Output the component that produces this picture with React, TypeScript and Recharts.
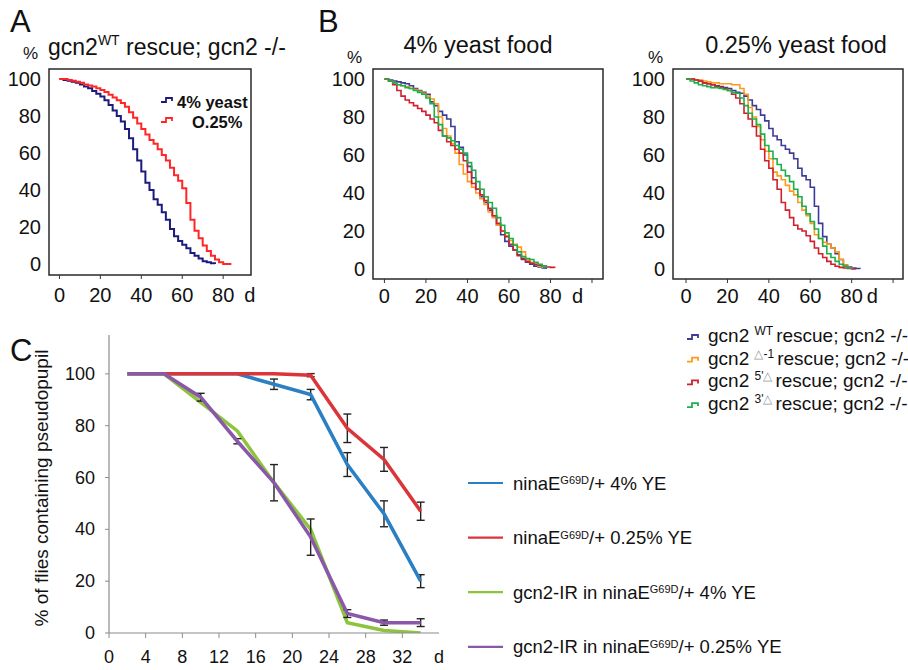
import React from "react";
import { LineChart, Line, XAxis, YAxis, ReferenceArea, ErrorBar } from "recharts";

const FONT = "'Liberation Sans', Arial, Helvetica, sans-serif";
const INK = "#111";

// survival curves, % alive read every 2 days (null = curve already ended)
const DAYS = [0, 2, 4, 6, 8, 10, 12, 14, 16, 18, 20, 22, 24, 26, 28, 30, 32, 34, 36, 38, 40, 42, 44, 46, 48, 50, 52, 54, 56, 58, 60, 62, 64, 66, 68, 70, 72, 74, 76, 78, 80, 82, 84];

const A_YEAST_4 = [100, 99.5, 99, 98.5, 98, 97, 96, 95, 93.5, 92, 90.5, 88.5, 86, 83, 80, 77, 73, 68, 62, 56, 50, 44, 40, 35, 32, 28, 24, 19, 15, 12.5, 10.5, 8.5, 6, 4.5, 3, 1.5, 1, 0.5, 0, null, null, null, null];
const A_YEAST_025 = [100, 100, 99.5, 99, 98.5, 98, 97, 96.5, 96, 95, 94, 93, 91.5, 90, 88.5, 87, 85, 82, 79, 76, 73, 70, 67, 65, 62, 59, 56, 52, 48, 45, 41, 33, 24, 18, 14, 10, 7, 4.5, 2.5, 1, 0, 0, 0];

const B4_WT = [100, 99.5, 99, 98.5, 98, 97.5, 96.5, 95, 94, 93, 92, 88, 86, 83, 81, 79, 75, 67, 64, 60, 54, 48, 42, 38, 35, 31, 28, 23, 18, 14.5, 12, 10, 7.5, 5, 3.5, 2.5, 1.5, 1, 0.5, 0, null, null, null];
const B4_D1 = [100, 99, 98, 97, 96.5, 96, 95, 94.5, 93.5, 92.5, 91, 89.5, 87, 80, 74, 70, 66, 61, 55, 50, 46, 43, 40, 37, 34, 30, 27, 23, 20, 17.5, 15, 13, 11.5, 9, 5, 3.5, 2.5, 1.5, 0.5, null, null, null, null];
const B4_5D = [100, 99, 97, 94, 91, 89, 87.5, 86, 84.5, 83, 81, 79, 77, 73, 70, 67, 65, 63, 61, 57, 51, 45, 42, 39, 36, 32, 28, 24, 20, 17, 13, 10, 7, 5.5, 4, 3, 2.5, 2, 1.5, 1, 0.8, 0.5, null];
const B4_3D = [100, 99, 98, 97, 96.5, 95.5, 95, 94, 93, 92, 90, 87, 80, 76, 70, 69, 67.5, 65, 63, 61, 56, 52, 46, 42, 38, 35, 32, 27, 23, 19, 16, 12.5, 9, 6.5, 5.5, 5, 3.5, 2.5, 1.5, 0.5, null, null, null];

const B025_WT = [100, 100, 99.5, 99, 98, 97.5, 97, 96.5, 96, 95.5, 95, 94, 93, 92.5, 91, 89, 86, 84, 81, 78, 74, 70, 68, 65, 63, 61, 58, 53, 49, 47, 43, 33, 24, 17, 13, 11, 8, 5, 2, 1, 0.5, 0.2, 0];
const B025_D1 = [100, 100, 99.5, 99.5, 99, 98.5, 98, 98, 97.5, 97.5, 97.5, 97, 97, 95, 92, 85, 80, 75, 68, 62, 58, 51, 49, 47, 44, 41, 39, 35, 31, 28, 24, 18, 16, 14, 13, 11, 9, 5, 2, 0.5, 0, null, null];
const B025_5D = [100, 100, 99.5, 99, 98, 97.5, 97, 96, 95.5, 95, 94, 92, 90, 87, 82, 79, 75, 70, 63, 57, 53, 47, 42, 35, 31, 27, 23, 21, 20, 17.5, 14.5, 11, 8, 6, 4, 2.5, 1.4, 0.8, 0.5, 0.2, 0, 0, null];
const B025_3D = [100, 99, 98, 97, 96.5, 96, 95.5, 95.5, 95, 94.5, 94, 93, 92.5, 90, 86, 82, 79, 76, 71, 65, 62, 58, 55, 52, 49, 46, 42, 38, 33, 29, 25, 21, 16, 12, 8, 6, 4, 2.5, 1.5, 0.5, 0, null, null];

const PCT_TICKS = [0, 20, 40, 60, 80, 100];

// panel C: % of flies with pseudopupil
const C_DAYS = [2, 6, 10, 14, 18, 22, 26, 30, 34];
const C_TICKS = [0, 4, 8, 12, 16, 20, 24, 28, 32, 36];
const C_BLUE = [100, 100, 100, 100, 96, 92, 65, 46, 20];
const C_BLUE_ERR = [null, null, null, null, 2, 2, 4.6, 5, 2.5];
const C_RED = [100, 100, 100, 100, 100, 99.5, 79, 67, 47];
const C_RED_ERR = [null, null, null, null, null, 0.6, 5.5, 4.6, 3.5];
const C_GREEN = [100, 100, 89, 78, 58, 40, 4, 1, 0];
const C_PURPLE = [100, 100, 91, 74, 58, 37, 7.5, 4, 4];
const C_PURPLE_ERR = [null, null, 1.5, 1, 7, 7, 1.5, 1, 1.5];

type Curve = { key: string; color: string; values: (number | null)[] };

const A_SERIES = [
  { key: "y4", label: "4% yeast", dx: 0, color: "#1b1b7d", values: A_YEAST_4 },
  { key: "y025", label: "O.25%", dx: 15, color: "#ff2626", values: A_YEAST_025 },
];

const B_KEYS = [
  { key: "wt", color: "#3c3c98", sup: "WT" },
  { key: "d1", color: "#ff9a1e", sup: "\u25B3-1" },
  { key: "d5", color: "#d0202c", sup: "5'\u25B3" },
  { key: "d3", color: "#1cb04c", sup: "3'\u25B3" },
];
const B4_VALUES = [B4_WT, B4_D1, B4_5D, B4_3D];
const B025_VALUES = [B025_WT, B025_D1, B025_5D, B025_3D];

const C_SERIES = [
  { key: "blue", color: "#2b7fc3", values: C_BLUE, err: C_BLUE_ERR, pre: "ninaE", post: "/+ 4% YE" },
  { key: "red", color: "#dc3539", values: C_RED, err: C_RED_ERR, pre: "ninaE", post: "/+ 0.25% YE" },
  { key: "green", color: "#8cc43c", values: C_GREEN, err: null, pre: "gcn2-IR in ninaE", post: "/+ 4% YE" },
  { key: "purple", color: "#8a58a8", values: C_PURPLE, err: C_PURPLE_ERR, pre: "gcn2-IR in ninaE", post: "/+ 0.25% YE" },
];

function survivalRows(curves: Curve[]) {
  return DAYS.map((day, i) => {
    const row: Record<string, number | null> = { day };
    curves.forEach((c) => {
      row[c.key] = c.values[i];
    });
    return row;
  });
}

const xTick = (labels: Record<number, string>, fontSize: number, tickLen: number, offset: number, color = "#333") => (p: any) => {
  const v = p.payload.value;
  const label = labels[v] ?? String(v);
  return (
    <g>
      {label !== "d" && <line x1={p.x} x2={p.x} y1={p.y} y2={p.y + tickLen} stroke={color} strokeWidth={1} />}
      <text x={p.x} y={p.y + offset} textAnchor="middle" dominantBaseline="central" fontSize={fontSize} fill={INK} fontFamily={FONT}>
        {label}
      </text>
    </g>
  );
};

const yTick = (fontSize: number, gap: number, tickLen = 0, color = "#333") => (p: any) => (
  <g>
    {tickLen > 0 && <line x1={p.x - tickLen} x2={p.x} y1={p.y} y2={p.y} stroke={color} strokeWidth={1} />}
    <text x={p.x - gap} y={p.y} textAnchor="end" dominantBaseline="central" fontSize={fontSize} fill={INK} fontFamily={FONT}>
      {p.payload.value}
    </text>
  </g>
);

type PanelProps = {
  left: number;
  top: number;
  width: number;
  height: number;
  margin: { top: number; right: number; bottom: number; left: number };
  yAxisWidth: number;
  xDomain: [number, number];
  yDomain: [number, number];
  xTicks: number[];
  xLabels: Record<number, string>;
  labelOffset: number;
  curves: Curve[];
  strokeWidth: number;
};

function SurvivalPanel(props: PanelProps) {
  const { left, top, width, height, margin, yAxisWidth, xDomain, yDomain, xTicks, xLabels, labelOffset, curves, strokeWidth } = props;
  return (
    <div style={{ position: "absolute", left, top }}>
      <LineChart width={width} height={height} data={survivalRows(curves)} margin={margin}>
        <XAxis
          type="number"
          dataKey="day"
          domain={xDomain}
          allowDataOverflow
          ticks={xTicks}
          interval={0}
          axisLine={false}
          tickLine={false}
          tickSize={0}
          tickMargin={0}
          height={30}
          tick={xTick(xLabels, 20, 4, labelOffset)}
        />
        <YAxis
          type="number"
          domain={yDomain}
          allowDataOverflow
          ticks={PCT_TICKS}
          interval={0}
          axisLine={false}
          tickLine={false}
          tickSize={0}
          tickMargin={0}
          width={yAxisWidth}
          tick={yTick(20, 8)}
        />
        {curves.map((c) => (
          <Line
            key={c.key}
            type="stepAfter"
            dataKey={c.key}
            stroke={c.color}
            strokeWidth={strokeWidth}
            dot={false}
            activeDot={false}
            isAnimationActive={false}
          />
        ))}
        <ReferenceArea
          x1={xDomain[0]}
          x2={xDomain[1]}
          y1={yDomain[0]}
          y2={yDomain[1]}
          fill="none"
          stroke="#2a2a2a"
          strokeWidth={1.5}
          ifOverflow="visible"
        />
      </LineChart>
    </div>
  );
}

function StepIcon({ x, y, color }: { x: number; y: number; color: string }) {
  return <path d={`M${x},${y + 2} h5 v-4 h6 v3`} fill="none" stroke={color} strokeWidth={1.8} />;
}

export default function App() {
  const aCurves: Curve[] = A_SERIES.map((s) => ({ key: s.key, color: s.color, values: s.values }));
  const b4Curves: Curve[] = B_KEYS.map((s, i) => ({ key: s.key, color: s.color, values: B4_VALUES[i] }));
  const b025Curves: Curve[] = B_KEYS.map((s, i) => ({ key: s.key, color: s.color, values: B025_VALUES[i] }));

  const cRows = C_DAYS.map((day, i) => {
    const row: Record<string, number | null> = { day };
    C_SERIES.forEach((s) => {
      row[s.key] = s.values[i];
      row[s.key + "Err"] = s.err ? s.err[i] : null;
    });
    return row;
  });

  return (
    <div style={{ position: "absolute", left: 0, top: 0, width: 908, height: 670, background: "#fff", fontFamily: FONT, overflow: "hidden" }}>
      <SurvivalPanel
        left={0}
        top={60}
        width={261}
        height={250}
        margin={{ top: 9, right: 10, bottom: 5, left: 0 }}
        yAxisWidth={49}
        xDomain={[-5.1, 93.6]}
        yDomain={[-5.9, 105.4]}
        xTicks={[0, 20, 40, 60, 80, 93]}
        xLabels={{ 93: "d" }}
        labelOffset={20}
        curves={aCurves}
        strokeWidth={2}
      />
      <SurvivalPanel
        left={330}
        top={60}
        width={283}
        height={254}
        margin={{ top: 9, right: 10, bottom: 5, left: 0 }}
        yAxisWidth={43}
        xDomain={[-5.5, 105.3]}
        yDomain={[-5.3, 105.3]}
        xTicks={[0, 20, 40, 60, 80, 93, 100]}
        xLabels={{ 93: "d", 100: "" }}
        labelOffset={17}
        curves={b4Curves}
        strokeWidth={1.6}
      />
      <SurvivalPanel
        left={630}
        top={60}
        width={277}
        height={254}
        margin={{ top: 9, right: 4, bottom: 5, left: 0 }}
        yAxisWidth={43}
        xDomain={[-6.3, 104.8]}
        yDomain={[-5.3, 105.3]}
        xTicks={[0, 20, 40, 60, 80, 90, 100]}
        xLabels={{ 90: "d", 100: "" }}
        labelOffset={17}
        curves={b025Curves}
        strokeWidth={1.6}
      />

      <div style={{ position: "absolute", left: 40, top: 320 }}>
        <LineChart width={409} height={350} data={cRows} margin={{ top: 15, right: 10, bottom: 2, left: 0 }}>
          <XAxis
            type="number"
            dataKey="day"
            domain={[0, 36]}
            allowDataOverflow
            ticks={C_TICKS}
            interval={0}
            axisLine={{ stroke: "#8c8c8c", strokeWidth: 1.2 }}
            tickLine={false}
            tickSize={0}
            tickMargin={0}
            height={35}
            tick={xTick({ 36: "d" }, 18, 5, 24, "#8c8c8c")}
          />
          <YAxis
            type="number"
            domain={[0, 115]}
            allowDataOverflow
            ticks={PCT_TICKS}
            interval={0}
            axisLine={{ stroke: "#8c8c8c", strokeWidth: 1.2 }}
            tickLine={false}
            tickSize={0}
            tickMargin={0}
            width={69}
            tick={yTick(18, 14, 4, "#8c8c8c")}
          />
          {C_SERIES.map((s) => (
            <Line
              key={s.key}
              type="linear"
              dataKey={s.key}
              stroke={s.color}
              strokeWidth={3.5}
              dot={false}
              activeDot={false}
              isAnimationActive={false}
            >
              {s.err && <ErrorBar dataKey={s.key + "Err"} width={4} strokeWidth={1.4} stroke="#222" direction="y" />}
            </Line>
          ))}
        </LineChart>
      </div>

      <svg width={908} height={670} style={{ position: "absolute", left: 0, top: 0, pointerEvents: "none" }} fontFamily={FONT} fill={INK}>
        <text x={10} y={32} fontSize={31}>A</text>
        <text x={318} y={32} fontSize={31}>B</text>
        <text x={10} y={361} fontSize={31}>C</text>

        <text x={23} y={59} fontSize={17}>%</text>
        <text x={48} y={55} fontSize={23}>
          gcn2<tspan fontSize={14} dy={-10}>WT</tspan>
          <tspan dy={10}> rescue; gcn2 -/-</tspan>
        </text>
        {A_SERIES.map((s, i) => (
          <g key={s.key}>
            <StepIcon x={161} y={100 + i * 20} color={s.color} />
            <text x={177 + s.dx} y={107.5 + i * 20} fontSize={16.5} fontWeight="bold">
              {s.label}
            </text>
          </g>
        ))}

        <text x={347} y={63} fontSize={17}>%</text>
        <text x={478} y={52.5} fontSize={23.5} textAnchor="middle">4% yeast food</text>
        <text x={648} y={63} fontSize={17}>%</text>
        <text x={796} y={53} fontSize={23.5} textAnchor="middle">0.25% yeast food</text>

        {B_KEYS.map((s, i) => {
          const y = 342 + i * 22.7;
          const tri = s.sup.indexOf("\u25B3");
          return (
            <g key={s.key}>
              <StepIcon x={687} y={y - 5} color={s.color} />
              <text x={708} y={y} fontSize={19}>
                {"gcn2 "}
                <tspan fontSize={12} dy={-7}>
                  {s.sup.split("").map((ch, j) => (
                    <tspan key={j} fill={j === tri ? "#9a9a9a" : INK}>{ch}</tspan>
                  ))}
                </tspan>
                <tspan dy={7} dx={3}>rescue; gcn2 -/-</tspan>
              </text>
            </g>
          );
        })}

        <text transform="translate(48,488) rotate(-90)" textAnchor="middle" fontSize={19}>
          % of flies containing pseudopupil
        </text>

        {C_SERIES.map((s, i) => {
          const cy = 483 + i * 54.6;
          return (
            <g key={s.key}>
              <line x1={468} x2={503} y1={cy} y2={cy} stroke={s.color} strokeWidth={2.2} />
              <text x={513} y={cy + 6.6} fontSize={18.5}>
                {s.pre}
                <tspan fontSize={11} dy={-5.5}>G69D</tspan>
                <tspan dy={5.5}>{s.post}</tspan>
              </text>
            </g>
          );
        })}
      </svg>
    </div>
  );
}
